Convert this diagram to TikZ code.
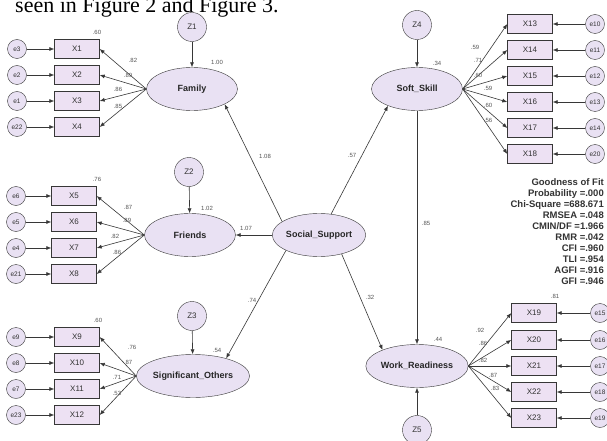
\documentclass[tikz,border=0pt]{standalone}
\usepackage{fontspec}
\setmainfont{Liberation Serif}
\setsansfont{Liberation Sans}
\usetikzlibrary{shapes.geometric,arrows.meta}
\definecolor{lav}{RGB}{233,225,243}
\definecolor{boxc}{RGB}{237,225,243}
\definecolor{ln}{RGB}{55,55,55}
\definecolor{numc}{RGB}{85,85,85}
\begin{document}
\begin{tikzpicture}[x=1pt,y=-1pt,
 lat/.style={ellipse,draw=ln,fill=lav,minimum width=91pt,minimum height=43pt,inner sep=0pt,font=\sffamily\bfseries\fontsize{9}{10}\selectfont,text=black!85},
 obs/.style={rectangle,draw=ln,fill=boxc,minimum width=45pt,minimum height=19pt,inner sep=0pt,font=\sffamily\fontsize{8}{9}\selectfont,text=black!80},
 err/.style={circle,draw=ln,fill=lav,minimum size=19pt,inner sep=0pt,font=\sffamily\fontsize{6.5}{7}\selectfont,text=black!80},
 dist/.style={circle,draw=ln,fill=lav,minimum size=29pt,inner sep=0pt,font=\sffamily\fontsize{8}{9}\selectfont,text=black!80},
 num/.style={font=\sffamily\fontsize{6}{7}\selectfont,text=numc,inner sep=0pt},
 fit/.style={font=\sffamily\bfseries\fontsize{9.5}{11}\selectfont,text=black!80,inner sep=0pt,anchor=base east},
 arr/.style={draw=ln,line width=0.6pt,-{Latex[length=5pt,width=4pt]}},
]
\useasboundingbox (0,0) rectangle (607,441);
\fill[white] (0,0) rectangle (607,441);

% caption fragment
\node[anchor=base west,inner sep=0pt,font=\fontsize{22}{24}\selectfont] (cap) at (15,13) {seen in Figure 2 and Figure 3.};

% latent variables
\node[lat] (ss) at (319,235) {Social\_Support};
\node[lat] (fam) at (192,89) {Family};
\node[lat] (fr) at (190,235) {Friends};
\node[lat] (so) at (193,376) {Significant\_Others};
\node[lat] (sk) at (417,89) {Soft\_Skill};
\node[lat] (wr) at (417,366) {Work\_Readiness};

% disturbances
\node[dist] (z1) at (192,27) {Z1};
\node[dist] (z2) at (189,172) {Z2};
\node[dist] (z3) at (192,316) {Z3};
\node[dist] (z4) at (417,25) {Z4};
\node[dist] (z5) at (417,430) {Z5};
\draw[arr] (z1) -- (fam);
\draw[arr] (z2) -- (fr);
\draw[arr] (z3) -- (so);
\draw[arr] (z4) -- (sk);
\draw[arr] (z5) -- (wr);

% Family indicators
\foreach \n/\y/\e in {1/49/e3,2/75/e2,3/101/e1,4/127/e22} {
  \node[obs] (x\n) at (77,\y) {X\n};
  \node[err] (ex\n) at (17,\y) {\e};
  \draw[arr] (ex\n) -- (x\n);
  \draw[arr] (fam.west) -- (x\n.east);
}
% Friends indicators
\foreach \n/\y/\e in {5/196/e6,6/222/e5,7/248/e4,8/274/e21} {
  \node[obs] (x\n) at (74,\y) {X\n};
  \node[err] (ex\n) at (16,\y) {\e};
  \draw[arr] (ex\n) -- (x\n);
  \draw[arr] (fr.west) -- (x\n.east);
}
% Significant others indicators
\foreach \n/\y/\e in {9/337/e9,10/363/e8,11/389/e7,12/415/e23} {
  \node[obs] (x\n) at (77,\y) {X\n};
  \node[err] (ex\n) at (16,\y) {\e};
  \draw[arr] (ex\n) -- (x\n);
  \draw[arr] (so.west) -- (x\n.east);
}
% Soft skill indicators
\foreach \n/\y/\e in {13/24/e10,14/50/e11,15/76/e12,16/102/e13,17/128/e14,18/154/e20} {
  \node[obs] (x\n) at (530,\y) {X\n};
  \node[err] (ex\n) at (595,\y) {\e};
  \draw[arr] (ex\n) -- (x\n);
  \draw[arr] (sk.east) -- (x\n.west);
}
% Work readiness indicators
\foreach \n/\y/\e in {19/313/e15,20/340/e16,21/366/e17,22/392/e18,23/418/e19} {
  \node[obs] (x\n) at (534,\y) {X\n};
  \node[err] (ex\n) at (600,\y) {\e};
  \draw[arr] (ex\n) -- (x\n);
  \draw[arr] (wr.east) -- (x\n.west);
}

% structural paths
\draw[arr] (ss.160) -- (fam.-25);
\draw[arr] (ss.west) -- (fr.east);
\draw[arr] (ss.-155) -- (so.28);
\draw[arr] (ss.60) -- (sk.-150);
\draw[arr] (ss.-40) -- (wr.155);
\draw[arr] (sk.south) -- (wr.north);

% path coefficients
\node[num] at (265,156) {1.08};
\node[num] at (352,155) {.57};
\node[num] at (246,228) {1.07};
\node[num] at (252,300) {.74};
\node[num] at (370,297) {.32};
\node[num] at (426,223) {.85};
% squared multiple correlations
\node[num] at (217,62) {1.00};
\node[num] at (207,208) {1.02};
\node[num] at (217,350) {.54};
\node[num] at (437,63) {.34};
\node[num] at (438,339) {.44};
\node[num] at (97,32) {.60};
\node[num] at (97,179) {.76};
\node[num] at (98,320) {.60};
\node[num] at (555,296) {.81};
% loadings
\node[num] at (133,60) {.82};
\node[num] at (128,75) {.89};
\node[num] at (118,89) {.86};
\node[num] at (118,106) {.85};
\node[num] at (128,207) {.87};
\node[num] at (127,220) {.89};
\node[num] at (115,236) {.82};
\node[num] at (117,252) {.86};
\node[num] at (132,347) {.76};
\node[num] at (128,362) {.87};
\node[num] at (117,377) {.71};
\node[num] at (117,393) {.53};
\node[num] at (475,47) {.59};
\node[num] at (478,60) {.71};
\node[num] at (478,75) {.60};
\node[num] at (488,88) {.59};
\node[num] at (488,105) {.60};
\node[num] at (488,120) {.56};
\node[num] at (480,330) {.92};
\node[num] at (483,343) {.86};
\node[num] at (483,360) {.82};
\node[num] at (493,375) {.87};
\node[num] at (495,388) {.83};

% goodness of fit
\foreach \t [count=\i] in {Goodness of Fit,Probability =.000,Chi-Square =688.671,RMSEA =.048,CMIN/DF =1.966,RMR =.042,CFI =.960,TLI =.954,AGFI =.916,GFI =.946} {
  \node[fit] (fit\i) at (604,174.5+11*\i) {\t};
}
\end{tikzpicture}
\end{document}
